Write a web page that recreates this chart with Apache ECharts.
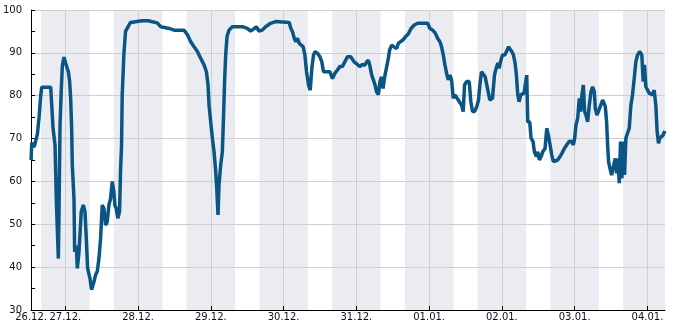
<!DOCTYPE html>
<html>
<head>
<meta charset="utf-8">
<script src="https://cdn.jsdelivr.net/npm/echarts@6/dist/echarts.min.js"></script>
<style>
html,body{margin:0;padding:0;background:#fff;}
#chart{width:685px;height:330px;}
</style>
</head>
<body>
<div id="chart"></div>
<script>
// x values: hours since 26.12. 00:00
const xMin = 12.7;
const xMax = 221.8;
const yMin = 30;
const yMax = 100;
const dayLabels = ['26.12.', '27.12.', '28.12.', '29.12.', '30.12.', '31.12.', '01.01.', '02.01.', '03.01.', '04.01.'];
const dayTicks = [24, 48, 72, 96, 120, 144, 168, 192, 216];
const nightBands = [[16, 32], [40, 56], [64, 80], [88, 104], [112, 128], [136, 152], [160, 176], [184, 200], [208, 224]];
const readings = [
  [12.70, 65], [12.92, 69], [13.69, 68], [14.78, 71], [15.33, 75], [15.88, 80], [16.21, 82], [17.53, 82],
  [19.17, 82], [19.50, 78], [19.94, 72.4], [20.60, 68.5], [21.04, 55.3], [21.69, 42], [21.91, 53], [22.24, 73],
  [22.68, 81.7], [23.01, 87], [23.56, 89], [24.11, 87.6], [24.98, 85.6], [25.42, 83.3], [25.75, 79.4], [26.08, 72.4],
  [26.30, 63.8], [26.85, 56], [27.07, 43.6], [27.62, 45], [27.95, 39.7], [28.50, 43.6], [28.82, 47.5], [29.26, 53],
  [29.92, 54.5], [30.47, 53], [30.91, 46.7], [31.35, 39.7], [32.12, 37.4], [32.66, 34.7], [33.43, 36.6], [33.98, 38.2],
  [34.53, 39], [35.08, 42], [35.63, 46.7], [36.17, 54.5], [36.72, 53.7], [37.27, 49.8], [37.82, 50.6], [38.37, 54.5],
  [38.92, 56], [39.47, 60], [40.01, 57.6], [40.34, 54.5], [40.78, 53.7], [41.33, 51.4], [41.88, 53], [42.21, 62.6],
  [42.54, 68.5], [42.76, 80.2], [43.30, 89.5], [43.85, 95], [44.62, 96], [45.50, 97.1], [49.34, 97.5], [51.31, 97.5],
  [54.27, 97], [55.50, 96.1], [58.24, 95.7], [59.88, 95.3], [63.17, 95.3], [64.27, 94.2], [65.37, 92.6], [66.47, 91.4],
  [67.56, 90.3], [68.66, 88.7], [69.76, 87.2], [70.52, 85.6], [71.07, 82.5], [71.40, 77.8], [71.95, 73.9], [72.50, 70.1],
  [73.05, 66.9], [73.60, 62.3], [73.93, 58.4], [74.36, 52.2], [74.69, 59.2], [75.24, 63.8], [75.79, 66.9], [76.23, 76.3],
  [76.56, 84], [76.89, 89.5], [77.33, 93.8], [77.98, 95.3], [79.08, 96.1], [82.37, 96.1], [84.02, 95.7], [85.11, 95.1],
  [86.21, 95.6], [86.98, 96.1], [87.86, 95.1], [88.95, 95.3], [90.05, 96.1], [91.70, 96.9], [93.34, 97.3], [97.85, 97.1],
  [98.40, 95.7], [98.95, 94.9], [99.50, 93.4], [100.05, 92.6], [100.60, 93.4], [101.15, 92.2], [101.69, 91.8], [102.46, 91.4],
  [103.01, 89.5], [103.56, 85.6], [104.22, 82.5], [104.77, 81.3], [105.31, 86.4], [105.86, 89.5], [106.41, 90.3], [107.18, 89.9],
  [107.95, 89.1], [108.60, 87.9], [109.15, 85.6], [109.70, 85.2], [110.47, 85.6], [111.24, 85.6], [112.12, 84], [112.88, 85.2],
  [113.76, 86], [114.53, 86.8], [115.41, 86.8], [116.17, 87.9], [117.05, 89.1], [118.15, 89.1], [119.25, 87.9], [120.34, 87.3],
  [121.11, 86.8], [121.99, 87.3], [122.76, 87.1], [123.30, 87.8], [123.96, 88.3], [124.51, 86.8], [125.06, 84.8], [125.61, 83.7],
  [126.16, 82.5], [126.71, 80.8], [127.25, 80.3], [127.80, 83.3], [128.24, 84.4], [128.79, 81.7], [129.34, 84.4], [129.89, 86.4],
  [130.54, 88.7], [130.98, 90.7], [131.64, 91.8], [132.41, 91.4], [133.29, 91], [133.83, 92.2], [134.60, 92.6], [135.37, 93],
  [136.25, 93.8], [137.12, 94.4], [138.02, 95.7], [139.12, 96.5], [140.21, 96.9], [141.86, 96.9], [143.50, 96.9], [144.27, 95.7],
  [145.15, 95.3], [146.03, 94.6], [146.79, 93.4], [147.56, 92.6], [148.11, 91.4], [148.66, 89.5], [149.21, 87.2], [149.76, 85.2],
  [150.30, 83.7], [150.85, 84.8], [151.40, 83.7], [151.95, 79.4], [152.50, 80.2], [153.05, 80.6], [153.60, 79], [154.14, 79.4],
  [154.69, 77.8], [155.24, 76.3], [155.68, 82.5], [156.34, 83.3], [157.22, 83.3], [157.76, 78.6], [158.31, 76.3], [158.97, 76.3],
  [159.74, 77.5], [160.29, 79], [160.73, 82.5], [161.27, 85.6], [161.82, 85.2], [162.48, 84.4], [163.25, 81.7], [164.02, 79],
  [164.90, 79.4], [165.55, 84.8], [166.10, 86.4], [166.65, 87.6], [167.09, 86.4], [167.53, 87.9], [168.19, 89.5], [168.95, 89.5],
  [169.50, 90.3], [170.16, 91.4], [170.71, 91.8], [171.26, 90.3], [171.81, 89.5], [172.35, 87.6], [172.79, 84.8], [173.23, 80.2],
  [173.67, 78.6], [174.22, 80.2], [174.77, 79.8], [175.32, 80.6], [175.87, 83.3], [176.19, 84.8], [176.52, 73.9], [177.18, 73.9],
  [177.62, 70.1], [178.28, 69.3], [178.72, 66.9], [179.38, 65.8], [179.83, 66.9], [180.38, 65], [180.93, 65.8], [181.47, 66.9],
  [182.24, 67.7], [182.79, 72.4], [183.34, 70.8], [183.89, 68.5], [184.44, 66.2], [184.98, 64.6], [185.53, 64.2], [186.41, 65],
  [187.18, 65.8], [187.84, 66.6], [188.60, 67.7], [189.37, 68.5], [190.25, 69.4], [191.02, 69.3], [191.57, 68.5], [192.01, 70.1],
  [192.44, 73.2], [192.99, 74.7], [193.54, 79.4], [193.98, 76.3], [194.42, 80.2], [194.86, 82.5], [195.30, 76.3], [195.74, 75.5],
  [196.28, 73.9], [196.83, 77.8], [197.38, 80.9], [197.93, 82.1], [198.48, 80.9], [198.81, 77], [199.36, 75.5], [199.90, 75.5],
  [200.45, 77.5], [201.22, 79], [201.77, 79.4], [202.10, 77.5], [202.54, 73.9], [202.87, 68.5], [203.19, 64.6], [203.63, 63.1],
  [204.18, 61.5], [204.73, 61.5], [205.39, 65.4], [205.83, 61.9], [206.27, 65.4], [206.71, 59.6], [207.14, 69.3], [207.58, 60.7],
  [208.02, 69.3], [208.46, 61.5], [208.90, 70.1], [209.45, 70.5], [210.00, 72.4], [210.55, 77.8], [211.09, 80.2], [211.64, 84],
  [212.19, 87.9], [212.74, 89.5], [213.51, 90.3], [214.16, 89.5], [214.60, 83.3], [215.04, 87.2], [215.48, 82.1], [216.03, 81.7],
  [216.58, 80.6], [217.13, 81], [217.68, 80.2], [218.22, 81.3], [218.77, 77.8], [219.21, 71.6], [219.65, 68.9], [220.09, 70.1],
  [220.64, 69.7], [221.19, 70.8], [221.73, 71.8]
];

const lineColor = '#0b5585';
const bandColor = '#eaecf1';
const gridColor = '#cfcfcf';
const font = 'DejaVu Sans';

const chart = echarts.init(document.getElementById('chart'), null, {renderer: 'canvas'});
chart.setOption({
  animation: false,
  backgroundColor: '#fff',
  grid: {left: 30, right: 20, top: 10, bottom: 20, containLabel: false},
  xAxis: {
    type: 'value', min: xMin, max: xMax, z: 1,
    axisLine: {show: true, lineStyle: {color: '#000', width: 1}},
    axisTick: {show: true, inside: true, length: 4, customValues: dayTicks, lineStyle: {color: '#000'}},
    axisLabel: {
      customValues: [xMin].concat(dayTicks),
      formatter: function (v) { return dayLabels[Math.floor(v / 24)]; },
      showMinLabel: true, showMaxLabel: true, hideOverlap: false,
      margin: 2, color: '#111', fontSize: 10, fontFamily: font
    },
    splitLine: {show: true, lineStyle: {color: gridColor, width: 1}}
  },
  yAxis: {
    type: 'value', min: yMin, max: yMax, interval: 10, z: 1,
    axisLine: {show: true, lineStyle: {color: '#000', width: 1}},
    axisTick: {show: true, inside: true, length: 4, lineStyle: {color: '#000'}},
    minorTick: {show: true, splitNumber: 2, length: 4, lineStyle: {color: '#000'}},
    axisLabel: {margin: 9, color: '#111', fontSize: 10, fontFamily: font},
    splitLine: {show: true, lineStyle: {color: gridColor, width: 1}}
  },
  series: [
    {
      type: 'custom', z: 0, silent: true,
      encode: {x: [0, 1]},
      data: nightBands,
      renderItem: function (params, api) {
        const s = api.coord([api.value(0), yMax]);
        const e = api.coord([api.value(1), yMin]);
        const cs = params.coordSys;
        const rect = echarts.graphic.clipRectByRect(
          {x: s[0], y: s[1], width: e[0] - s[0], height: e[1] - s[1]},
          {x: cs.x, y: cs.y, width: cs.width, height: cs.height});
        return rect && {type: 'rect', shape: rect, style: {fill: bandColor}};
      }
    },
    {
      type: 'line', z: 2,
      data: readings,
      showSymbol: false,
      lineStyle: {color: lineColor, width: 3.5},
      itemStyle: {color: lineColor}
    }
  ]
});
</script>
</body>
</html>
